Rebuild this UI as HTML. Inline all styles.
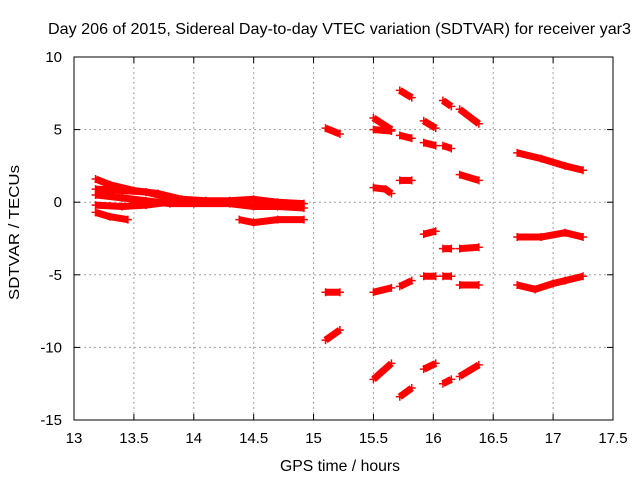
<!DOCTYPE html>
<html><head><meta charset="utf-8"><style>
body{margin:0;background:#fff}
svg{font-family:"Liberation Sans",sans-serif;font-size:15px}
</style></head><body>
<svg id="c" width="640" height="480" xmlns="http://www.w3.org/2000/svg">
<rect width="640" height="480" fill="#fff"/>
<text x="48" y="34" textLength="583" lengthAdjust="spacingAndGlyphs" style="font-size:16px">Day 206 of 2015, Sidereal Day-to-day VTEC variation (SDTVAR) for receiver yar3</text>
<text x="280" y="471" textLength="120" lengthAdjust="spacingAndGlyphs" style="font-size:16px">GPS time / hours</text>
<text transform="translate(19,300) rotate(-90)" textLength="135" lengthAdjust="spacingAndGlyphs" style="font-size:15px">SDTVAR / TECUs</text>
<g id="grid"></g><g id="ticks"></g><g id="series"></g>
<rect x="74" y="57" width="539" height="363" fill="none" stroke="#000" stroke-width="1"/>
</svg>
<script>
const xTicks=[13,13.5,14,14.5,15,15.5,16,16.5,17,17.5];
const yTicks=[-15,-10,-5,0,5,10];
const segments=[
[[13.18,1.6],[13.3,1.2],[13.5,0.8],[13.7,0.6],[13.9,0.2],[14.1,0.1],[14.3,0.1],[14.5,0.2],[14.7,0.0],[14.92,-0.1]],
[[13.18,0.9],[13.4,0.8],[13.6,0.7],[13.8,0.3],[14.0,0.1]],
[[13.18,0.5],[13.4,0.3],[13.6,0.1],[13.8,-0.1],[14.0,-0.1],[14.3,-0.1],[14.5,-0.3],[14.7,-0.3],[14.92,-0.4]],
[[13.18,-0.2],[13.4,-0.3],[13.6,-0.2],[13.8,0.0]],
[[13.18,-0.7],[13.3,-1.0],[13.45,-1.2]],
[[14.38,-1.2],[14.5,-1.4],[14.7,-1.2],[14.92,-1.2]],
[[15.1,5.1],[15.22,4.7]],
[[15.1,-6.2],[15.22,-6.2]],
[[15.1,-9.5],[15.22,-8.8]],
[[15.5,5.8],[15.65,5.0]],
[[15.5,5.0],[15.65,4.9]],
[[15.5,1.0],[15.6,0.9],[15.65,0.6]],
[[15.5,-6.2],[15.65,-5.9]],
[[15.5,-12.2],[15.65,-11.1]],
[[15.72,7.7],[15.82,7.2]],
[[15.72,4.6],[15.82,4.4]],
[[15.72,1.5],[15.82,1.5]],
[[15.72,-5.8],[15.82,-5.4]],
[[15.72,-13.4],[15.82,-12.8]],
[[15.92,5.6],[16.02,5.1]],
[[15.92,4.1],[16.02,3.9]],
[[15.92,-2.2],[16.02,-2.0]],
[[15.92,-5.1],[16.02,-5.1]],
[[15.92,-11.5],[16.02,-11.1]],
[[16.08,7.0],[16.15,6.6]],
[[16.08,3.9],[16.15,3.7]],
[[16.08,-3.2],[16.15,-3.2]],
[[16.08,-5.1],[16.15,-5.1]],
[[16.08,-12.5],[16.15,-12.2]],
[[16.22,6.4],[16.38,5.4]],
[[16.22,1.9],[16.38,1.5]],
[[16.22,-3.2],[16.38,-3.1]],
[[16.22,-5.7],[16.38,-5.7]],
[[16.22,-12.0],[16.38,-11.2]],
[[16.7,3.4],[16.9,3.0],[17.1,2.5],[17.25,2.2]],
[[16.7,-2.4],[16.9,-2.4],[17.1,-2.1],[17.25,-2.4]],
[[16.7,-5.7],[16.85,-6.0],[17.0,-5.6],[17.1,-5.4],[17.25,-5.1]]
];
const L=74,R=613,T=57,B=420,NS="http://www.w3.org/2000/svg";
const xs=v=>L+(v-13)/4.5*(R-L);
const ys=v=>B-(v+15)/25*(B-T);
function mk(tag,at,parent){const e=document.createElementNS(NS,tag);for(const k in at)e.setAttribute(k,at[k]);document.getElementById(parent).appendChild(e);return e;}
xTicks.forEach(t=>{const x=xs(t);
 if(t>13&&t<17.5){const g=mk('line',{x1:x,x2:x,y1:T,y2:B,stroke:'#a0a0a0','stroke-dasharray':'2,3'},'grid');
 
 }
 mk('line',{x1:x,x2:x,y1:B,y2:B-6,stroke:'#000'},'ticks');mk('line',{x1:x,x2:x,y1:T,y2:T+6,stroke:'#000'},'ticks');
 const tx=mk('text',{x:x,y:B+23,'text-anchor':'middle'},'ticks');tx.textContent=t;
 
 });
yTicks.forEach(t=>{const y=ys(t);
 if(t>-15&&t<10){const g=mk('line',{x1:L,x2:R,y1:y,y2:y,stroke:'#a0a0a0','stroke-dasharray':'2,3'},'grid');
 
 }
 mk('line',{x1:L,x2:L+6,y1:y,y2:y,stroke:'#000'},'ticks');mk('line',{x1:R,x2:R-6,y1:y,y2:y,stroke:'#000'},'ticks');
 const tx=mk('text',{x:L-12,y:y+5,'text-anchor':'end'},'ticks');tx.textContent=t;
 
 });
segments.forEach((s,i)=>{
 const p=mk('polyline',{points:s.map(d=>xs(d[0])+','+ys(d[1])).join(' '),fill:'none',stroke:'#f00','stroke-width':7,'stroke-linejoin':'round'},'series');
 
 
 s.forEach(d=>{const x=xs(d[0]),y=ys(d[1]);
  const m=mk('path',{d:`M${x-4},${y}H${x+4}M${x},${y-4}V${y+4}`,stroke:'#f00','stroke-width':1.5},'series');
  
  });
});
</script>
</body></html>
